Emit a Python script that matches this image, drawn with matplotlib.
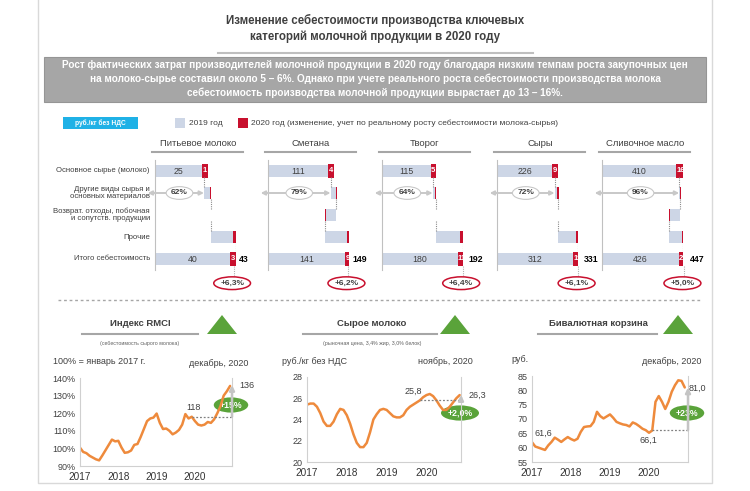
"""Себестоимость молочной продукции 2019-2020: каскадные диаграммы и три динамических ряда."""

import matplotlib.pyplot as plt
from matplotlib.patches import Polygon, Rectangle

plt.rcParams["font.family"] = ["Liberation Sans", "DejaVu Sans"]

W, H = 750, 491
DARK = "#404040"
BAR = "#cdd6e6"
RED = "#c8102e"
GREEN = "#5aa33a"
ORANGE = "#ee8a3c"
LINE = "#c8c8c8"

# ---- waterfall data (руб./кг без НДС) ----
products = ["Питьевое молоко", "Сметана", "Творог", "Сыры", "Сливочное масло"]
row_labels = [
    "Основное сырье (молоко)",
    "Другие виды сырья и\nосновных материалов",
    "Возврат. отходы, побочная\nи сопутств. продукции",
    "Прочие",
    "Итого себестоимость",
]
raw_2019 = [25, 111, 115, 226, 410]
raw_delta = [1, 4, 5, 9, 16]
other_2019 = [3, 10, 6, 12, 4]
other_delta = [0.5, 1, 1, 2, 0]
byprod_2019 = [0, -21, 0, 0, -60]
byprod_delta = [0, 0, 0, 0, -2]
misc_2019 = [12, 41, 59, 74, 72]
misc_delta = [1.5, 4, 5, 8, 7]
total_2019 = [40, 141, 180, 312, 426]
total_delta = [3, 9, 11, 19, 21]
total_2020 = [43, 149, 192, 331, 447]
raw_share = ["62%", "79%", "64%", "72%", "96%"]
growth = ["+6,3%", "+6,2%", "+6,4%", "+6,1%", "+5,0%"]

# ---- monthly series, январь 2017 onwards ----
years = ["2017", "2018", "2019", "2020"]
rmci = [100.4, 98.0, 97.3, 95.8, 94.8, 93.8, 93.2, 96.0, 99.0, 102.0, 105.0, 104.0,
        104.3, 100.5, 97.5, 97.8, 98.8, 102.0, 102.5, 106.5, 111.0, 115.5, 117.0, 117.5,
        119.8, 114.5, 111.0, 111.3, 110.0, 108.0, 109.0, 110.5, 113.5, 119.5, 117.0, 118.0,
        115.5, 113.5, 113.0, 113.5, 115.0, 114.5, 116.5, 120.0, 124.0, 130.0, 132.5, 135.5]
raw_milk = [25.4, 25.5, 25.5, 25.2, 24.6, 23.8, 23.4, 23.4, 23.8, 24.5, 25.0, 24.9,
            24.4, 23.6, 22.6, 21.8, 21.4, 21.4, 21.8, 22.8, 24.0, 24.5, 24.9, 25.0,
            24.9, 24.6, 24.3, 24.2, 24.2, 24.4, 24.9, 25.2, 25.4, 25.6, 25.8, 26.1,
            26.3, 26.4, 26.2, 25.8, 25.3, 24.9, 24.9, 25.2, 25.6, 26.0, 26.3]
basket = [61.9, 60.4, 60.0, 59.6, 59.2, 60.8, 62.0, 63.5, 62.8, 62.0, 62.9, 63.7,
          63.0, 62.5, 63.1, 65.5, 67.2, 67.4, 67.5, 69.0, 72.5, 71.0, 70.2, 70.9,
          71.6, 70.4, 69.0, 68.5, 68.1, 67.9, 67.4, 68.8, 68.3, 67.5, 66.6, 66.1,
          65.2, 66.0, 76.0, 78.0, 76.0, 73.5, 76.0, 79.5, 81.8, 83.5, 83.3, 81.0]
rmci_base, rmci_base_month, rmci_last = 118, 35, 136
milk_base, milk_base_month, milk_last = 25.8, 34, 26.3
basket_base, basket_base_month, basket_last = 66.1, 37, 81.0

fig = plt.figure(figsize=(W / 100, H / 100), dpi=100)
fig.patch.set_facecolor("white")
bg = fig.add_axes([0, 0, 1, 1])
bg.set_xlim(0, W)
bg.set_ylim(H, 0)
bg.axis("off")


def add_ax(x0, y0, x1, y1):
    return fig.add_axes([x0 / W, 1 - y1 / H, (x1 - x0) / W, (y1 - y0) / H])


# frame
bg.plot([38, 38, 712, 712], [0, 483, 483, 0], color="#d9d9d9", lw=1)

# header
bg.text(375, 20, "Изменение себестоимости производства ключевых", ha="center",
        va="center", fontsize=8.3, fontweight="bold", color=DARK)
bg.text(375, 37, "категорий молочной продукции в 2020 году", ha="center",
        va="center", fontsize=8.3, fontweight="bold", color=DARK)
bg.plot([218, 533], [53, 53], color="#bfbfbf", lw=1.5)
bg.add_patch(Rectangle((44, 57), 662, 45, fc="#a6a6a6", ec="#959595", lw=0.8))
box_lines = [
    "Рост фактических затрат производителей молочной продукции в 2020 году "
    "благодаря низким темпам роста закупочных цен",
    "на молоко-сырье составил около 5 – 6%. Однако при учете реального роста "
    "себестоимости производства молока",
    "себестоимость производства молочной продукции вырастает до 13 – 16%.",
]
for k, line in enumerate(box_lines):
    bg.text(375, 65 + 14 * k, line, ha="center", va="center", fontsize=7.2,
            fontweight="bold", color="white")

# legend
bg.add_patch(Rectangle((63, 117), 75, 12, fc="#1fb1e6", ec="none"))
bg.text(100.5, 123, "руб./кг без НДС", ha="center", va="center", fontsize=4.8,
        fontweight="bold", color="white")
bg.add_patch(Rectangle((175, 118), 10, 10, fc=BAR, ec="none"))
bg.text(189, 123, "2019 год", ha="left", va="center", fontsize=6, color=DARK)
bg.add_patch(Rectangle((238, 118), 10, 10, fc=RED, ec="none"))
bg.text(251, 123, "2020 год (изменение, учет по реальному росту себестоимости "
        "молока-сырья)", ha="left", va="center", fontsize=6, color=DARK)

# row labels
row_y = [171, 193, 215, 237, 259]
for lab, y in zip(row_labels, row_y):
    bg.text(150, y, lab, ha="right", va="center", fontsize=5.6, color=DARK,
            linespacing=1.05)

# waterfalls
starts = [155, 268, 382, 497, 602]
components = [(raw_2019, raw_delta), (other_2019, other_delta),
              (byprod_2019, byprod_delta), (misc_2019, misc_delta)]
for i, name in enumerate(products):
    x0 = starts[i]
    bg.text(x0 + 43, 143, name, ha="center", va="center", fontsize=6.8, color=DARK)
    bg.plot([x0 - 3, x0 + 88], [152, 152], color="#a6a6a6", lw=1.5)

    ax = add_ax(x0, 160, x0 + 81, 270)
    xmax = total_2020[i]
    ax.set_xlim(0, xmax)
    ax.set_ylim(4.5, -0.5)
    for s in ["top", "right", "bottom"]:
        ax.spines[s].set_visible(False)
    ax.spines["left"].set_color("#c0c0c0")
    ax.set_xticks([])
    ax.set_yticks([])
    ax.patch.set_alpha(0)

    thin = 0.016 * xmax
    cum = 0.0
    row1_start = 0.0
    for r, (base_vals, delta_vals) in enumerate(components):
        base, delta = base_vals[i], delta_vals[i]
        if r == 1:
            row1_start = cum
        if base != 0:
            ax.barh(r, base, left=cum, height=0.55, color=BAR)
        if r == 0:
            lab = str(delta)
            box = max(delta, xmax * (0.07 + 0.03 * (len(lab) - 1)))
            ax.barh(r, box, left=cum + base, height=0.6, color=RED)
            ax.text(cum + base / 2, r, str(base), ha="center", va="center",
                    fontsize=6.3, color=DARK)
            ax.text(cum + base + box / 2, r, lab, ha="center", va="center",
                    fontsize=5.5, color="white", fontweight="bold")
        elif base != 0:
            ax.barh(r, max(abs(delta), thin), left=cum + base, height=0.55,
                    color=RED)
        cum += base + delta
        ax.plot([cum, cum], [r + 0.28, r + 0.72], color="#8c8c8c", lw=0.8,
                ls=(0, (1, 1)))

    # total row
    t19, td = total_2019[i], total_delta[i]
    ax.barh(4, t19, left=0, height=0.55, color=BAR)
    lab = str(td)
    box = max(td, xmax * (0.07 + 0.03 * (len(lab) - 1)))
    ax.barh(4, box, left=t19, height=0.6, color=RED)
    ax.text(t19 / 2, 4, str(t19), ha="center", va="center", fontsize=6.3,
            color=DARK)
    ax.text(t19 + box / 2, 4, lab, ha="center", va="center", fontsize=5.5,
            color="white", fontweight="bold")
    ax.text(t19 + box + 0.03 * xmax, 4, str(total_2020[i]), ha="left",
            va="center", fontsize=6.3, color="black", fontweight="bold",
            clip_on=False)
    ax.plot([t19 + box * 0.6, t19 + box * 0.6], [4.3, 4.75], color="#b0b0b0",
            lw=0.8, ls=(0, (1, 1)), clip_on=False)

    # raw-material share arrow
    ax.annotate("", xy=(-0.09 * xmax, 1), xytext=(row1_start, 1),
                arrowprops=dict(arrowstyle="<|-|>", color=LINE, lw=1.4,
                                mutation_scale=6, shrinkA=0, shrinkB=0),
                annotation_clip=False)
    ax.text(row1_start / 2, 1, raw_share[i], ha="center", va="center",
            fontsize=6, fontweight="bold", color=DARK,
            bbox=dict(boxstyle="ellipse,pad=0.12", fc="white", ec="#c8c8c8",
                      lw=0.8))
    ax.text(t19 + box * 0.6 - 0.02 * xmax, 5.1, growth[i], ha="center",
            va="center", fontsize=6, fontweight="bold", color=DARK,
            clip_on=False,
            bbox=dict(boxstyle="ellipse,pad=0.12", fc="white", ec=RED, lw=1.1))

# separator
bg.plot([58, 700], [300, 300], color="#a6a6a6", lw=1, dashes=(2, 2))


# ---- line charts ----
def header(cx, title, sub, ul, tri):
    bg.text(cx, 324, title, ha="center", va="center", fontsize=6.8,
            fontweight="bold", color=DARK)
    bg.plot(ul, [334, 334], color="#a6a6a6", lw=1.5)
    bg.add_patch(Polygon([(tri[0], 334), (tri[1], 334),
                          ((tri[0] + tri[1]) / 2, 315)], closed=True,
                         fc=GREEN, ec="none"))
    if sub:
        bg.text(cx, 343, sub, ha="center", va="center", fontsize=3.8,
                color="#606060")


def line_panel(ax, values, ylim, yticks, ylabels, xmax, base, base_m, last):
    ax.plot(range(len(values)), values, color=ORANGE, lw=1.8,
            solid_capstyle="round", solid_joinstyle="round")
    ax.set_xlim(0, xmax)
    ax.set_ylim(*ylim)
    ax.set_yticks(yticks)
    ax.set_yticklabels(ylabels)
    ax.set_xticks([0, 12, 24, 36])
    ax.set_xticklabels(years)
    ax.tick_params(axis="y", length=0, labelsize=6.5, colors=DARK, pad=3)
    ax.tick_params(axis="x", length=0, labelsize=7.2, colors="#333333", pad=4.5)
    ax.spines["top"].set_visible(False)
    for s in ["left", "bottom", "right"]:
        ax.spines[s].set_color("#d0d0d0")
    ax.patch.set_alpha(0)
    ax.hlines(base, base_m, xmax, colors="#808080", lw=0.9,
              linestyles=(0, (1.5, 1.5)))
    ax.annotate("", xy=(xmax, last), xytext=(xmax, base),
                arrowprops=dict(arrowstyle="-|>", color="#c4c4c4", lw=1.8,
                                mutation_scale=7, shrinkA=0, shrinkB=0),
                annotation_clip=False)


header(140, "Индекс RMCI", "(себестоимость сырого молока)", [82, 198], [207, 237])
header(372, "Сырое молоко", "(рыночная цена, 3,4% жир, 3,0% белок)", [303, 437],
       [440, 470])
header(598, "Бивалютная корзина", None, [538, 657], [663, 693])

ax1 = add_ax(80, 378, 232, 466)
line_panel(ax1, rmci, (90, 140), [90, 100, 110, 120, 130, 140],
           ["90%", "100%", "110%", "120%", "130%", "140%"], 47.6,
           rmci_base, rmci_base_month, rmci_last)
ax2 = add_ax(307, 377, 461, 462)
line_panel(ax2, raw_milk, (20, 28), [20, 22, 24, 26, 28],
           ["20", "22", "24", "26", "28"], 46.4,
           milk_base, milk_base_month, milk_last)
ax3 = add_ax(532, 376, 688, 462)
line_panel(ax3, basket, (55, 85), [55, 60, 65, 70, 75, 80, 85],
           ["55", "60", "65", "70", "75", "80", "85"], 48,
           basket_base, basket_base_month, basket_last)

small = dict(fontsize=6.5, color=DARK, va="center")
bg.text(53, 361, "100% = январь 2017 г.", ha="left", **small)
bg.text(219, 363, "декабрь, 2020", ha="center", **small)
bg.text(282, 362, "руб./кг без НДС", ha="left", **small)
bg.text(445, 362, "ноябрь, 2020", ha="center", **small)
bg.text(511, 360, "руб.", ha="left", **small)
bg.text(672, 361, "декабрь, 2020", ha="center", **small)

bg.text(194, 407, "118", ha="center", **small)
bg.text(247, 385, "136", ha="center", **small)
bg.text(413, 391, "25,8", ha="center", **small)
bg.text(477, 395, "26,3", ha="center", **small)
bg.text(543, 433, "61,6", ha="center", **small)
bg.text(648, 440, "66,1", ha="center", **small)
bg.text(697, 388, "81,0", ha="center", **small)

pill = dict(ha="center", va="center", fontsize=6.3, fontweight="bold",
            color="white")
for x, y, txt in [(231, 405, "+15%"), (460, 413, "+2,0%"), (687, 413, "+23%")]:
    bg.text(x, y, txt, bbox=dict(boxstyle="ellipse,pad=0.1", fc=GREEN, ec="none"),
            **pill)

fig.savefig("out.png", dpi=100)
